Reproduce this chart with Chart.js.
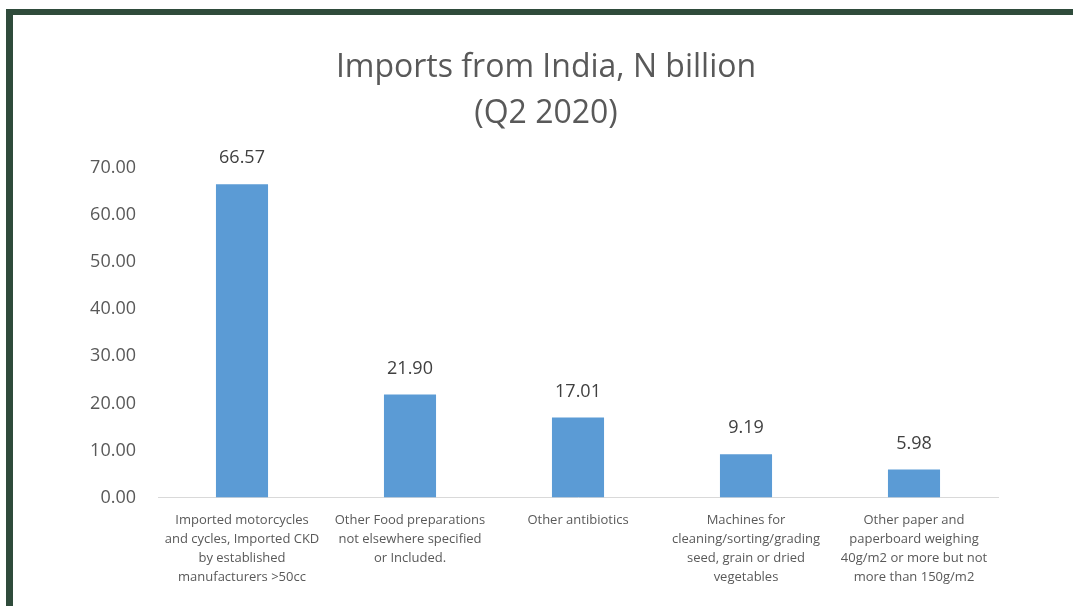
<!DOCTYPE html>
<html>
<head>
<meta charset="utf-8">
<script src="https://cdn.jsdelivr.net/npm/chart.js@4/dist/chart.umd.min.js"></script>
<style>
  html, body { margin: 0; padding: 0; background: #fff; }
  #frame {
    position: absolute; left: 6px; top: 9px; width: 1067px; height: 597px;
    border-left: 7px solid #2f4b3b; border-top: 6px solid #2f4b3b;
    background: #fff;
  }
  #wrap { position: absolute; left: 0; top: 0; width: 1060px; height: 591px; }
</style>
</head>
<body>
<div id="frame"><div id="wrap"><canvas id="chart"></canvas></div></div>
<script>
const categories = [
  ["Imported motorcycles", "and cycles, Imported CKD", "by established", "manufacturers >50cc"],
  ["Other Food preparations", "not elsewhere specified", "or Included."],
  ["Other antibiotics"],
  ["Machines for", "cleaning/sorting/grading", "seed, grain or dried", "vegetables"],
  ["Other paper and", "paperboard weighing", "40g/m2 or more but not", "more than 150g/m2"]
];
const importValues = [66.57, 21.90, 17.01, 9.19, 5.98];
const titleLines = ["Imports from India, N billion", "(Q2 2020)"];

// title centred on the whole chart, and the value above each bar
const chartText = {
  id: "chartText",
  afterDraw(chart) {
    const ctx = chart.ctx;
    ctx.save();
    ctx.textAlign = "center";
    ctx.textBaseline = "middle";
    ctx.fillStyle = "#595959";
    ctx.font = "32px 'Open Sans'";
    titleLines.forEach((line, i) => {
      ctx.fillText(line, chart.width / 2 + 3, 53 + i * 46);
    });
    ctx.font = "18px 'Open Sans'";
    ctx.fillStyle = "#404040";
    chart.getDatasetMeta(0).data.forEach((bar, i) => {
      ctx.fillText(importValues[i].toFixed(2), bar.x, bar.y - 26);
    });
    ctx.restore();
  }
};

new Chart(document.getElementById("chart"), {
  type: "bar",
  data: {
    labels: categories,
    datasets: [{
      data: importValues,
      backgroundColor: "#5b9bd5",
      borderWidth: 0,
      categoryPercentage: 1,
      barPercentage: 0.31
    }]
  },
  options: {
    responsive: true,
    maintainAspectRatio: false,
    animation: false,
    layout: { padding: { left: 0, right: 75, top: 153, bottom: 6 } },
    plugins: {
      legend: { display: false },
      tooltip: { enabled: false },
      title: { display: false }
    },
    scales: {
      x: {
        grid: { display: false, drawTicks: false },
        border: { display: true, color: "#d9d9d9", width: 1 },
        ticks: {
          color: "#595959",
          font: { family: "'Open Sans'", size: 13, lineHeight: 1.47 },
          padding: 13,
          maxRotation: 0,
          autoSkip: false
        }
      },
      y: {
        min: 0,
        max: 70,
        grid: { display: false, drawTicks: false },
        border: { display: false },
        afterFit(scale) { scale.width = 145; },
        ticks: {
          stepSize: 10,
          color: "#595959",
          font: { family: "'Open Sans'", size: 18 },
          padding: 22,
          callback: v => v.toFixed(2)
        }
      }
    }
  },
  plugins: [chartText]
});
</script>
</body>
</html>
